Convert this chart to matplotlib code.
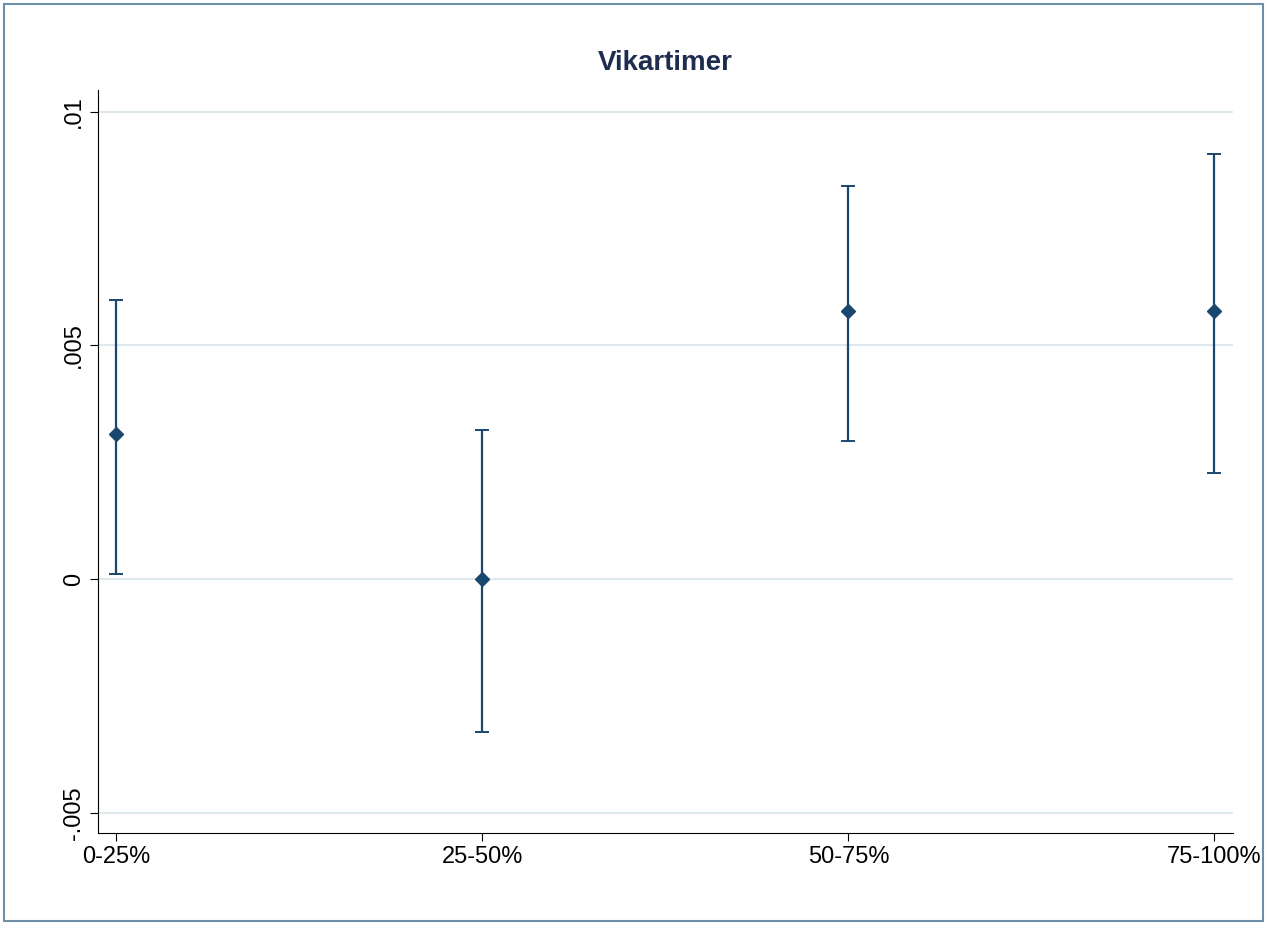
import matplotlib
matplotlib.use("Agg")
import matplotlib.pyplot as plt
from matplotlib.patches import Rectangle

plt.rcParams['font.family'] = ['Liberation Sans', 'DejaVu Sans']

categories = ["0-25%", "25-50%", "50-75%", "75-100%"]
estimates = [0.0031, 0.0, 0.00573, 0.00573]
ci_low = [0.0001, -0.00327, 0.00295, 0.00226]
ci_high = [0.00598, 0.00318, 0.00842, 0.0091]
yticks = [-0.005, 0, 0.005, 0.01]
ytick_labels = ["-.005", "0", ".005", ".01"]

fig = plt.figure(figsize=(12.67, 9.25), dpi=100)
fig.patches.append(Rectangle((0.003, 0.004), 0.994, 0.992, transform=fig.transFigure,
                             fill=False, edgecolor="#6e8fa8", linewidth=1.5))
ax = fig.add_axes([0.0773, 0.0995, 0.8957, 0.8035])
x = list(range(len(categories)))
col = "#1a476f"
yerr = [[e - l for e, l in zip(estimates, ci_low)], [h - e for e, h in zip(estimates, ci_high)]]
ax.errorbar(x, estimates, yerr=yerr, fmt="D", color=col, ecolor=col, markersize=7,
            elinewidth=1.6, capsize=5, capthick=1.4)
ax.set_xlim(-0.05, 3.05)
ax.set_ylim(-0.00543, 0.01047)
ax.set_yticks(yticks)
ax.set_yticklabels(ytick_labels, rotation=90, va="center")
ax.set_xticks(x)
ax.set_xticklabels(categories)
ax.tick_params(labelsize=17, length=6)
ax.grid(axis="y", color="#dfe8ec", linewidth=1.5)
ax.set_axisbelow(True)
for s in ["top", "right"]:
    ax.spines[s].set_visible(False)
ax.set_title("Vikartimer", fontsize=20, fontweight="bold", color="#1e2d4f", pad=14)
fig.savefig("out.png")
